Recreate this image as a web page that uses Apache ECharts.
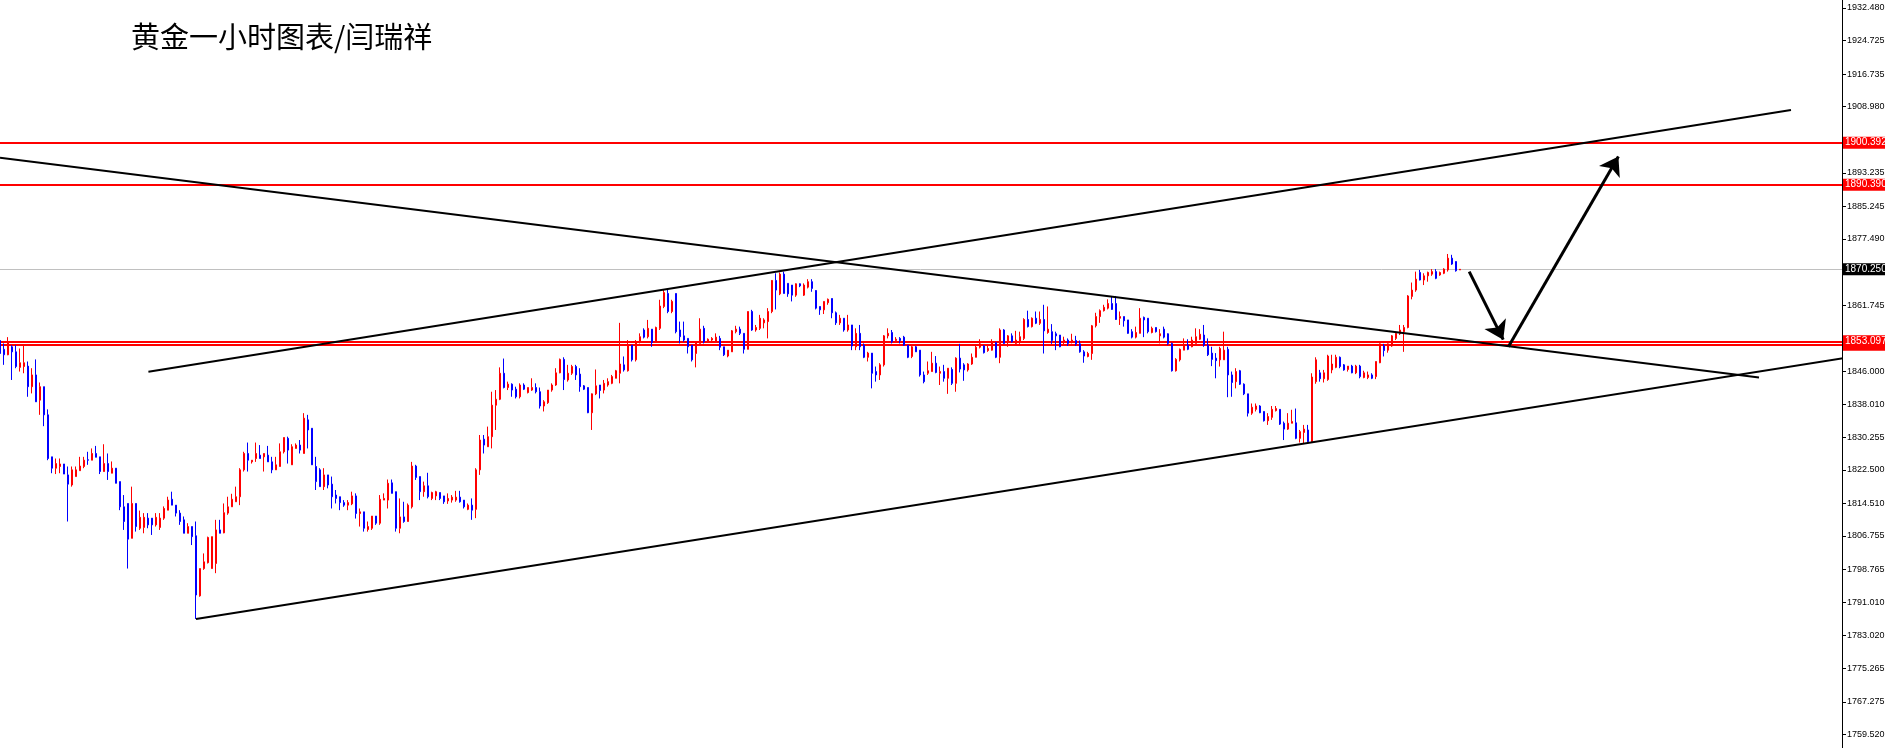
<!DOCTYPE html>
<html><head><meta charset="utf-8">
<script src="https://cdn.jsdelivr.net/npm/echarts@6/dist/echarts.min.js"></script>
<style>html,body{margin:0;padding:0;background:#fff;overflow:hidden}#c{width:1885px;height:748px}</style>
</head><body><div id="c"></div>
<script>
const chartTitle = '黄金一小时图表/闫瑞祥';
// hourly candles: [open, close, low, high]
const candles = [
[1853.3,1850.2,1849.8,1853.8],[1851.2,1849.9,1847.5,1852.6],[1849.9,1853.0,1849.8,1854.1],[1851.8,1850.6,1843.9,1852.2],
[1850.6,1847.1,1846.7,1852.2],[1846.9,1848.0,1845.9,1851.4],[1847.1,1848.0,1845.5,1852.2],[1847.2,1842.3,1839.9,1848.3],
[1842.3,1845.1,1840.7,1846.7],[1845.1,1838.7,1838.7,1848.8],[1839.1,1842.3,1835.6,1843.3],[1842.3,1835.6,1832.9,1842.3],
[1835.6,1825.2,1824.8,1836.9],[1825.6,1822.9,1821.7,1825.6],[1822.9,1824.0,1821.5,1825.2],[1823.3,1823.9,1821.7,1825.2],
[1823.9,1821.5,1821.5,1823.9],[1821.3,1819.1,1810.2,1823.3],[1818.9,1822.5,1818.5,1823.3],[1820.9,1822.5,1820.9,1823.3],
[1822.3,1823.4,1822.3,1825.6],[1823.3,1824.8,1822.9,1825.6],[1824.9,1824.8,1823.7,1826.8],[1824.8,1826.4,1824.8,1827.6],
[1826.4,1825.5,1825.5,1828.2],[1825.6,1822.1,1821.5,1825.6],[1822.1,1824.0,1822.1,1828.6],[1824.0,1822.1,1820.1,1826.4],
[1821.7,1822.9,1821.7,1824.5],[1822.9,1819.3,1819.3,1822.9],[1819.7,1813.7,1812.9,1819.7],[1813.7,1810.2,1808.2,1816.5],
[1814.5,1806.0,1799.0,1814.5],[1806.2,1814.5,1806.2,1818.5],[1814.5,1809.0,1807.8,1814.5],[1808.6,1811.2,1808.2,1812.8],
[1808.8,1811.2,1807.4,1812.2],[1811.0,1809.4,1808.6,1812.2],[1811.0,1809.4,1807.0,1811.0],[1809.4,1811.2,1809.0,1812.2],
[1808.8,1811.0,1808.2,1812.2],[1811.0,1813.3,1810.6,1813.8],[1812.9,1815.3,1812.9,1816.1],[1815.5,1814.1,1814.1,1817.3],
[1814.1,1812.2,1811.4,1814.1],[1812.2,1810.2,1809.4,1812.9],[1810.6,1807.4,1807.4,1811.4],[1807.4,1809.0,1807.4,1809.8],
[1809.0,1806.6,1804.6,1809.0],[1806.8,1792.7,1787.0,1810.2],[1792.5,1799.0,1792.3,1799.0],[1799.0,1800.6,1798.7,1802.6],
[1800.4,1806.4,1800.2,1806.6],[1799.0,1806.6,1799.0,1806.6],[1800.2,1808.2,1797.9,1810.6],[1808.2,1807.4,1807.4,1810.6],
[1807.5,1812.3,1807.4,1814.5],[1812.2,1813.7,1811.8,1816.1],[1813.7,1815.5,1813.7,1816.8],[1814.9,1816.1,1814.9,1818.5],
[1816.1,1822.5,1814.1,1822.9],[1822.5,1826.4,1822.1,1826.8],[1826.4,1824.8,1822.1,1829.0],[1824.4,1824.8,1824.0,1824.8],
[1825.2,1826.4,1824.4,1829.0],[1826.0,1825.2,1825.2,1828.4],[1825.6,1826.4,1822.1,1826.4],[1826.0,1824.4,1824.4,1828.2],
[1824.4,1822.5,1821.7,1825.6],[1822.5,1823.7,1822.5,1825.6],[1823.3,1826.8,1823.3,1828.8],[1826.8,1830.2,1826.4,1830.2],
[1830.0,1827.2,1824.0,1830.4],[1823.7,1828.0,1823.7,1828.6],[1827.6,1828.4,1827.6,1828.8],[1828.4,1827.2,1826.4,1829.6],
[1826.4,1834.8,1826.4,1836.0],[1834.4,1832.0,1827.6,1835.6],[1832.4,1823.7,1823.7,1832.4],[1823.3,1819.7,1817.7,1825.6],
[1822.5,1818.5,1818.5,1822.9],[1818.5,1821.3,1817.7,1822.9],[1821.3,1818.9,1818.1,1821.3],[1819.1,1816.1,1813.3,1820.9],
[1816.5,1815.7,1814.5,1817.7],[1816.1,1814.7,1812.9,1816.1],[1814.7,1814.1,1813.7,1815.3],[1814.1,1814.7,1812.9,1815.3],
[1814.4,1816.3,1814.1,1817.3],[1816.3,1812.1,1810.9,1816.9],[1812.1,1812.5,1809.0,1813.3],[1812.5,1808.6,1807.8,1812.5],
[1808.3,1809.0,1807.8,1810.2],[1808.6,1811.5,1808.2,1811.5],[1811.5,1809.8,1809.4,1811.5],[1809.8,1815.5,1809.4,1816.5],
[1815.3,1815.7,1815.3,1816.9],[1815.3,1819.3,1813.3,1820.2],[1819.4,1816.9,1816.9,1820.2],[1817.3,1808.6,1807.8,1817.3],
[1808.6,1811.3,1807.4,1815.7],[1811.3,1810.2,1809.9,1814.9],[1810.2,1814.1,1810.2,1814.5],[1813.7,1823.4,1813.3,1824.4],
[1823.4,1820.7,1820.1,1823.7],[1820.9,1817.3,1815.3,1820.9],[1817.3,1818.7,1816.1,1819.7],[1818.7,1816.1,1815.7,1821.8],
[1815.7,1817.1,1815.3,1817.3],[1816.3,1817.3,1815.3,1817.5],[1817.1,1815.7,1815.3,1817.1],[1816.3,1814.9,1814.4,1816.3],
[1815.1,1815.7,1814.4,1816.9],[1815.3,1816.0,1814.7,1816.5],[1815.3,1816.0,1814.9,1817.5],[1816.0,1814.9,1814.7,1817.5],
[1815.3,1813.7,1813.3,1815.3],[1813.1,1814.1,1812.9,1814.5],[1814.1,1812.9,1810.6,1815.7],[1813.1,1822.5,1811.0,1822.9],
[1822.5,1829.6,1821.3,1830.8],[1829.8,1828.4,1826.4,1830.8],[1828.0,1830.4,1828.0,1832.8],[1830.4,1837.9,1827.6,1841.1],
[1837.9,1839.3,1832.0,1841.5],[1839.3,1845.5,1839.1,1846.9],[1845.5,1842.1,1841.9,1849.0],[1842.1,1842.9,1841.5,1843.5],
[1842.9,1841.5,1839.9,1843.1],[1841.7,1839.9,1839.5,1842.3],[1839.9,1842.7,1839.5,1843.1],[1842.7,1841.7,1841.5,1843.1],
[1840.9,1842.1,1840.7,1842.1],[1841.5,1842.1,1841.3,1844.3],[1842.1,1841.1,1840.7,1843.1],[1841.1,1837.7,1837.1,1842.1],
[1837.7,1838.7,1836.4,1839.1],[1838.5,1841.5,1838.2,1841.5],[1841.5,1842.7,1841.1,1843.1],[1842.7,1845.6,1842.5,1846.7],
[1845.6,1848.8,1845.5,1849.0],[1848.8,1844.0,1841.5,1849.3],[1843.9,1845.5,1843.5,1847.5],[1845.5,1847.1,1845.1,1847.5],
[1847.1,1845.1,1843.9,1847.5],[1845.3,1842.3,1841.1,1846.7],[1842.5,1841.7,1841.5,1842.7],[1842.1,1836.1,1836.0,1842.1],
[1836.1,1840.6,1832.0,1840.7],[1840.6,1842.5,1840.3,1846.4],[1842.7,1841.4,1839.5,1842.7],[1841.5,1843.1,1840.7,1843.9],
[1842.7,1843.5,1842.3,1844.3],[1843.1,1844.7,1842.9,1845.1],[1844.3,1846.1,1844.3,1846.3],[1845.5,1847.7,1843.1,1857.5],
[1847.5,1846.3,1845.9,1849.5],[1846.1,1852.2,1845.9,1853.4],[1852.2,1848.7,1848.3,1852.2],[1848.7,1853.0,1848.3,1853.4],
[1853.0,1854.2,1852.6,1855.0],[1855.8,1854.1,1853.8,1856.2],[1854.2,1856.2,1853.8,1858.2],[1856.0,1852.8,1851.8,1856.0],
[1853.0,1856.4,1852.8,1856.6],[1856.2,1861.5,1855.8,1863.0],[1861.4,1864.7,1861.0,1865.5],[1864.5,1860.2,1859.8,1865.5],
[1860.2,1862.6,1859.8,1863.0],[1864.5,1855.4,1855.0,1864.5],[1855.8,1854.2,1852.6,1857.8],[1854.4,1853.4,1853.0,1857.8],
[1853.8,1851.8,1850.2,1853.8],[1852.2,1848.7,1848.3,1852.2],[1850.2,1853.0,1846.9,1853.0],[1852.6,1856.0,1852.6,1858.6],
[1856.2,1853.0,1852.6,1856.8],[1853.0,1853.6,1852.8,1853.8],[1853.4,1853.8,1853.0,1854.1],[1853.0,1854.1,1853.0,1855.0],
[1853.8,1851.7,1851.0,1854.4],[1851.8,1849.9,1849.6,1851.8],[1849.6,1851.0,1849.3,1851.0],[1850.6,1855.6,1850.6,1855.8],
[1855.4,1856.0,1855.0,1856.8],[1856.0,1855.0,1854.6,1856.6],[1855.0,1851.2,1850.2,1855.0],[1851.2,1860.2,1851.2,1860.2],
[1860.2,1855.8,1855.6,1860.6],[1855.8,1856.4,1855.4,1857.0],[1856.2,1858.6,1855.8,1859.4],[1857.5,1858.2,1856.2,1858.6],
[1857.8,1860.2,1853.8,1861.0],[1860.2,1867.6,1859.8,1867.7],[1867.6,1865.3,1860.7,1869.3],[1864.4,1869.1,1864.1,1869.5],
[1869.1,1864.5,1864.5,1869.7],[1866.9,1864.4,1863.7,1866.9],[1866.5,1864.1,1862.6,1866.5],[1864.1,1866.8,1863.7,1866.9],
[1866.8,1866.3,1866.0,1866.9],[1864.1,1866.5,1863.9,1866.9],[1866.0,1867.3,1865.7,1867.9],[1867.3,1865.7,1864.9,1867.9],
[1865.2,1861.0,1860.7,1865.3],[1861.4,1860.6,1859.4,1861.4],[1860.6,1862.6,1859.6,1862.6],[1862.3,1863.1,1861.8,1863.3],
[1863.3,1859.9,1858.6,1863.3],[1859.9,1857.5,1857.0,1860.2],[1857.5,1858.6,1857.0,1859.4],[1858.6,1855.8,1855.4,1858.6],
[1855.8,1857.0,1855.4,1859.4],[1857.0,1852.0,1851.0,1857.0],[1851.8,1855.0,1851.0,1856.2],[1855.0,1851.8,1851.0,1857.0],
[1852.2,1849.3,1849.1,1852.6],[1849.3,1850.3,1848.3,1850.6],[1850.3,1845.5,1841.9,1850.3],[1845.9,1845.1,1843.5,1847.1],
[1845.1,1847.5,1843.9,1847.9],[1847.5,1854.4,1847.1,1854.6],[1854.4,1855.0,1853.8,1856.2],[1855.2,1853.0,1852.6,1855.8],
[1853.3,1853.6,1852.8,1854.1],[1853.8,1853.3,1852.6,1854.1],[1854.1,1852.2,1852.0,1854.4],[1852.2,1849.3,1849.1,1852.2],
[1849.5,1851.8,1849.1,1852.0],[1851.8,1850.6,1850.6,1852.0],[1851.0,1845.1,1844.7,1851.0],[1845.1,1843.5,1843.1,1845.9],
[1845.5,1846.1,1845.1,1848.3],[1845.9,1847.9,1845.9,1850.6],[1847.9,1845.7,1845.5,1849.6],[1845.5,1845.9,1842.7,1847.1],
[1845.9,1844.3,1843.5,1847.5],[1844.3,1846.7,1840.6,1846.7],[1846.4,1843.1,1842.7,1846.9],[1843.1,1849.1,1841.1,1849.3],
[1849.1,1846.5,1845.7,1852.5],[1847.5,1846.3,1843.7,1847.9],[1846.3,1847.7,1845.9,1847.9],[1847.7,1849.3,1847.5,1850.2],
[1849.3,1851.7,1849.3,1852.2],[1851.7,1852.5,1851.4,1853.6],[1852.0,1850.4,1850.2,1852.2],[1850.9,1851.4,1850.6,1852.2],
[1851.0,1852.8,1850.9,1853.6],[1852.8,1849.3,1849.1,1853.0],[1849.3,1855.8,1847.9,1856.2],[1855.8,1852.6,1852.5,1856.0],
[1853.0,1854.4,1851.8,1854.6],[1854.4,1853.0,1852.8,1855.0],[1852.6,1853.4,1852.2,1855.6],[1853.0,1854.2,1852.5,1855.4],
[1853.8,1858.3,1853.4,1858.6],[1858.3,1856.6,1856.4,1860.4],[1856.6,1858.6,1856.4,1858.8],[1858.6,1857.4,1857.2,1860.2],
[1857.4,1858.3,1857.0,1860.2],[1858.3,1855.6,1850.2,1861.8],[1855.2,1856.0,1854.9,1861.4],[1855.4,1853.3,1852.5,1857.2],
[1854.9,1854.4,1851.0,1855.4],[1854.6,1851.8,1851.7,1854.6],[1853.0,1853.4,1852.0,1854.2],[1853.4,1852.6,1852.0,1853.8],
[1853.0,1853.4,1852.6,1854.9],[1853.3,1852.5,1852.0,1854.4],[1852.5,1850.6,1850.4,1853.3],[1850.6,1849.6,1848.0,1851.0],
[1849.5,1850.2,1849.3,1850.6],[1850.2,1856.8,1848.7,1857.0],[1856.8,1859.0,1856.4,1859.9],[1859.0,1860.4,1857.5,1860.7],
[1860.4,1861.2,1860.2,1861.8],[1861.0,1862.1,1860.7,1863.1],[1862.1,1860.7,1860.6,1863.7],[1862.1,1858.3,1858.2,1863.9],
[1858.6,1859.0,1857.0,1860.2],[1859.0,1858.0,1856.6,1859.0],[1858.2,1855.0,1854.9,1858.2],[1855.4,1854.1,1853.8,1856.0],
[1854.1,1855.2,1853.8,1856.6],[1855.0,1858.6,1855.0,1861.0],[1858.8,1858.2,1854.1,1859.0],[1858.6,1855.4,1855.0,1858.6],
[1855.2,1856.2,1855.0,1856.6],[1856.4,1855.4,1855.2,1856.4],[1854.4,1854.9,1852.6,1856.0],[1856.0,1854.1,1853.8,1856.6],
[1854.9,1852.6,1852.2,1855.0],[1852.6,1846.1,1845.9,1852.8],[1846.1,1848.8,1845.9,1849.1],[1848.7,1851.2,1848.3,1851.4],
[1851.0,1852.2,1851.0,1853.8],[1852.2,1851.2,1851.0,1853.6],[1851.8,1853.4,1851.7,1854.2],[1852.6,1854.2,1852.6,1856.2],
[1853.6,1854.8,1853.4,1856.0],[1854.6,1852.2,1851.8,1857.0],[1852.2,1849.9,1849.6,1853.8],[1850.3,1848.8,1847.2,1851.8],
[1849.1,1848.5,1844.3,1850.3],[1848.7,1851.4,1847.1,1851.8],[1848.7,1851.0,1848.7,1855.4],[1851.2,1845.1,1839.8,1851.8],
[1845.1,1843.3,1839.9,1845.9],[1843.5,1845.9,1841.9,1846.7],[1846.1,1842.9,1842.7,1846.3],[1842.9,1840.6,1840.3,1843.1],
[1840.6,1836.0,1835.2,1840.6],[1836.0,1837.4,1835.6,1838.3],[1836.9,1837.7,1836.4,1838.3],[1837.7,1836.1,1836.0,1837.9],
[1836.4,1834.2,1834.0,1836.4],[1834.2,1835.2,1833.2,1836.0],[1835.0,1836.9,1834.4,1837.7],[1836.6,1837.1,1836.4,1837.7],
[1836.9,1833.4,1833.2,1836.9],[1833.6,1832.2,1829.6,1834.0],[1832.2,1833.6,1832.0,1836.0],[1833.6,1834.0,1833.6,1836.8],
[1833.7,1830.0,1829.8,1837.1],[1830.0,1831.6,1829.0,1832.0],[1831.4,1832.2,1828.8,1833.2],[1832.0,1829.2,1829.0,1833.2],
[1829.2,1844.6,1829.0,1845.5],[1843.5,1848.7,1843.0,1849.3],[1845.6,1844.2,1843.5,1846.3],[1844.2,1845.6,1843.3,1846.3],
[1844.0,1849.6,1843.7,1849.9],[1846.3,1847.7,1845.5,1849.9],[1846.9,1849.3,1846.7,1849.9],[1849.3,1847.1,1846.7,1849.5],
[1847.5,1846.3,1846.1,1847.7],[1846.4,1847.2,1845.9,1847.2],[1847.2,1845.6,1845.5,1847.5],[1845.6,1847.2,1845.3,1847.5],
[1847.2,1844.7,1844.3,1847.5],[1844.5,1845.6,1844.3,1846.1],[1844.5,1845.1,1844.1,1845.9],[1845.1,1844.3,1844.1,1845.5],
[1844.7,1848.3,1844.1,1848.3],[1848.0,1852.5,1847.9,1852.6],[1852.0,1850.9,1849.5,1852.5],[1851.0,1852.5,1850.4,1852.6],
[1852.0,1854.4,1851.8,1854.6],[1853.8,1855.0,1853.4,1855.2],[1854.9,1855.8,1854.6,1857.0],[1855.4,1856.4,1850.6,1857.0],
[1856.4,1863.9,1856.2,1864.1],[1863.8,1865.3,1863.1,1867.1],[1865.3,1867.9,1864.9,1869.7],[1869.5,1867.7,1867.6,1870.1],
[1867.7,1868.7,1866.5,1869.3],[1868.7,1869.5,1867.3,1869.7],[1869.1,1869.7,1868.7,1870.3],[1869.7,1868.1,1867.9,1870.3],
[1868.9,1869.5,1868.7,1869.7],[1869.3,1870.3,1869.1,1870.5],[1870.1,1872.9,1869.7,1873.9],[1872.9,1871.5,1871.3,1873.7],
[1872.1,1869.9,1869.7,1872.1],[1870.1,1870.25,1870.1,1870.3]
];
const slotCount = 461;               // bars + empty right-hand space
const yMin = 1756.275, yMax = 1934.37;
const tickValues = [1932.480,1924.725,1916.735,1908.980,1893.235,1885.245,1877.490,1861.745,1846.000,1838.010,
  1830.255,1822.500,1814.510,1806.755,1798.765,1791.010,1783.020,1775.265,1767.275,1759.520];
const redLevels = [1900.392, 1890.390, 1852.300, 1853.097];
const redLevelLabels = ['1900.392', '1890.390', '1852.300', '1853.097'];
const currentPrice = 1870.250;
const currentPriceLabel = '1870.250';
// trend lines: [barIndex, price]
const downTrend  = [[0, 1896.82], [439.75, 1844.47]];
const upperTrend = [[37.1, 1845.87], [447.75, 1908.18]];
const lowerTrend = [[49, 1787.0], [461, 1849.13]];
const arrowDown  = [[367.3, 1869.7], [375.8, 1853.5]];
const arrowUp    = [[377.1, 1851.8], [404.6, 1897.1]];

const categories = [];
for (let i = 0; i < slotCount; i++) categories.push(String(i));

const chart = echarts.init(document.getElementById('c'), null, {renderer: 'canvas'});
const tagFont = 'Liberation Sans';
const trendStyle = {color: '#000', width: 2, type: 'solid'};
function trendSeries(pts, extra) {
  return Object.assign({
    type: 'line', xAxisIndex: 1, yAxisIndex: 0, data: pts, showSymbol: false, symbol: 'none',
    lineStyle: trendStyle, silent: true, animation: false, z: 4
  }, extra || {});
}
const levelData = redLevels.map((v, i) => ({
  yAxis: v, lineStyle: {color: '#ff0000', width: 2, type: 'solid'},
  label: {backgroundColor: '#ff0000', formatter: redLevelLabels[i]}
}));
levelData.push({yAxis: currentPrice, lineStyle: {color: '#c0c0c0', width: 1, type: 'solid'},
  label: {backgroundColor: '#000000', formatter: currentPriceLabel}});

chart.setOption({
  backgroundColor: '#ffffff',
  animation: false,
  graphic: [{type: 'text', left: 131, top: 22,
    style: {text: chartTitle, fontSize: 29, fontFamily: 'Noto Sans CJK SC', fill: '#000'}}],
  grid: {left: -2, right: 43, top: 0, bottom: 0, containLabel: false, outerBoundsMode: 'none'},
  xAxis: [
    {type: 'category', data: categories, boundaryGap: true, show: false},
    {type: 'value', min: -0.5, max: slotCount - 0.5, show: false}
  ],
  yAxis: {
    type: 'value', position: 'right', min: yMin, max: yMax, scale: true,
    axisLine: {show: true, onZero: false, lineStyle: {color: '#000', width: 1}},
    axisTick: {show: true, customValues: tickValues, length: 4, inside: false, lineStyle: {color: '#000'}},
    axisLabel: {show: true, customValues: tickValues, margin: 5, color: '#000', fontSize: 9,
      fontFamily: tagFont, formatter: v => v.toFixed(3)},
    splitLine: {show: false}
  },
  series: [
    {
      type: 'candlestick', xAxisIndex: 0, yAxisIndex: 0, data: candles, barWidth: 2,
      itemStyle: {color: '#ff0000', color0: '#0000ff', borderColor: '#ff0000', borderColor0: '#0000ff',
        borderColorDoji: '#ff0000', borderWidth: 1},
      silent: true, z: 3,
      markLine: {
        silent: true, symbol: 'none', animation: false, z: 2,
        label: {show: true, position: 'end', distance: 1, color: '#fff', fontSize: 10, fontFamily: tagFont,
          padding: [1, 2, 0, 2], lineHeight: 11},
        data: levelData
      }
    },
    trendSeries(downTrend, {
      markLine: {
        silent: true, animation: false, symbol: ['none', 'arrow'], symbolSize: 18,
        lineStyle: {color: '#000', width: 3, type: 'solid'}, label: {show: false},
        data: [
          [{coord: arrowDown[0]}, {coord: arrowDown[1]}],
          [{coord: arrowUp[0]}, {coord: arrowUp[1]}]
        ]
      }
    }),
    trendSeries(upperTrend),
    trendSeries(lowerTrend)
  ]
});
</script></body></html>
